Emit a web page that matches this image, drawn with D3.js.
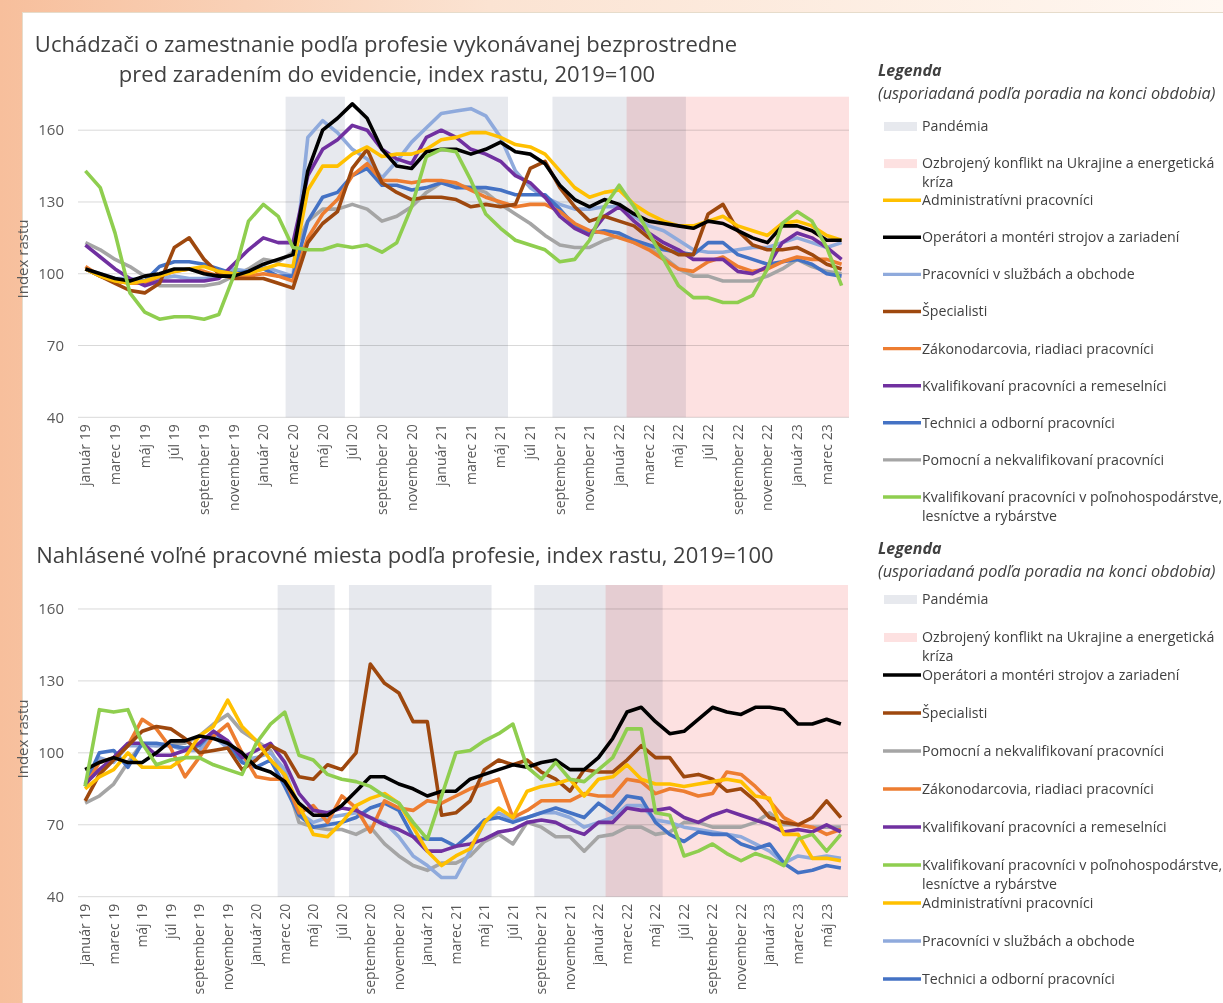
<!DOCTYPE html>
<html lang="sk">
<head>
<meta charset="utf-8">
<script src="https://cdn.jsdelivr.net/npm/d3@7.9.0/dist/d3.min.js"></script>
<style>
  html, body { margin: 0; padding: 0; }
  body { width: 1223px; height: 1003px; overflow: hidden; background: #fff; font-family: 'Open Sans', sans-serif; }
  svg { display: block; }
</style>
</head>
<body>
<svg id="chart" width="1223" height="1003"></svg>
<script>
// months jan 2019 .. jun 2023
const months = [
  'január 19','február 19','marec 19','apríl 19','máj 19','jún 19','júl 19','august 19','september 19','október 19','november 19','december 19',
  'január 20','február 20','marec 20','apríl 20','máj 20','jún 20','júl 20','august 20','september 20','október 20','november 20','december 20',
  'január 21','február 21','marec 21','apríl 21','máj 21','jún 21','júl 21','august 21','september 21','október 21','november 21','december 21',
  'január 22','február 22','marec 22','apríl 22','máj 22','jún 22','júl 22','august 22','september 22','október 22','november 22','december 22',
  'január 23','február 23','marec 23','apríl 23','máj 23','jún 23'
];
const topMonths = months.slice(0, 52);
const botMonths = months.slice(0, 54);

// shaded periods [first month, last month]
const pandemicTop = [['marec 20', 'jún 20'], ['august 20', 'máj 21'], ['september 21', 'máj 22']];
const warTop = [['február 22', 'apríl 23']];
const pandemicBot = [['marec 20', 'jún 20'], ['august 20', 'máj 21'], ['september 21', 'máj 22']];
const warBot = [['február 22', 'jún 23']];

// uchádzači o zamestnanie (top)
const topAdmin = [102,99,97,96,97,99,101,102,103,101,100,100,102,104,103,
  135,145,145,150,153,149,150,150,152,156,157,159,159,157,154,153,150,143,136,132,134,
  135,129,125,122,120,120,122,124,120,118,116,121,122,120,116,114];
const topOper = [102,100,98,97,99,100,102,102,100,99,99,101,104,106,108,
  143,160,165,171,165,152,145,144,151,152,152,150,152,155,151,150,146,137,131,128,131,
  129,125,122,121,120,119,122,121,118,115,113,120,120,118,114,114];
const topSluzby = [102,100,98,98,97,98,99,98,98,99,102,101,103,101,99,
  157,164,159,152,148,140,147,155,161,167,168,169,166,157,143,136,132,129,127,127,128,
  128,124,120,118,114,110,109,109,110,111,111,113,115,113,111,113];
const topSpec = [102,99,96,93,92,96,111,115,106,100,98,98,98,96,94,
  113,121,126,144,152,138,134,131,132,132,131,128,129,128,129,144,147,136,128,122,124,
  122,120,115,111,108,108,125,129,118,112,110,110,111,108,104,102];
const topZak = [103,99,97,96,96,99,101,102,101,99,99,99,100,99,97,
  115,125,131,141,146,139,139,138,139,139,138,135,132,130,128,129,129,126,121,118,117,
  115,113,110,106,102,101,105,107,103,101,102,105,107,106,106,104];
const topKval = [112,107,102,98,95,97,97,97,97,98,104,110,115,113,113,
  141,152,156,162,160,152,148,146,157,160,157,152,150,147,141,138,132,124,119,116,124,
  128,122,117,113,110,106,106,106,101,100,103,113,117,115,111,106];
const topTech = [102,99,97,97,97,103,105,105,104,102,100,101,102,99,99,
  122,132,134,141,144,137,137,135,136,138,136,136,136,135,133,133,133,127,120,117,118,
  117,114,112,110,109,108,113,113,108,106,104,105,106,104,100,99];
const topPom = [113,110,106,103,99,95,95,95,95,96,99,102,106,105,109,
  122,127,127,129,127,122,124,128,134,138,137,136,134,129,125,121,116,112,111,111,114,
  116,113,111,107,102,99,99,97,97,97,99,102,106,103,101,100];
const topPol = [143,136,117,92,84,81,82,82,81,83,99,122,129,124,111,
  110,110,112,111,112,109,113,128,149,152,151,139,125,119,114,112,110,105,106,114,128,
  137,128,117,106,95,90,90,88,88,91,102,121,126,122,111,95];

// nahlásené voľné pracovné miesta (bottom)
const botOper = [93,96,98,96,96,100,105,105,107,106,104,100,94,92,88,79,74,74,78,84,90,90,87,85,
  82,84,84,89,91,93,95,94,96,97,93,93,98,
  106,117,119,113,108,109,114,119,117,116,119,119,118,112,112,114,112];
const botSpec = [80,91,97,103,109,111,110,106,100,101,102,93,97,103,100,90,89,95,93,100,137,129,125,113,
  113,74,75,80,93,97,95,97,92,89,84,93,92,
  92,97,103,98,98,90,91,89,84,85,80,73,71,70,73,80,73];
const botPom = [79,82,87,96,104,103,104,104,107,112,116,109,105,101,90,71,69,68,68,66,69,62,57,53,
  51,54,54,57,63,66,62,71,69,65,65,59,65,
  66,69,69,66,67,71,71,69,69,69,71,75,70,70,69,69,69];
const botZak = [86,96,98,103,114,110,102,90,98,107,112,100,90,89,89,75,78,71,82,77,67,80,77,76,
  80,79,82,85,87,89,73,76,80,80,80,83,82,
  82,89,88,83,85,84,82,83,92,91,86,80,73,70,69,66,68];
const botKval = [87,93,98,104,104,99,99,101,104,109,105,98,101,104,96,83,76,75,77,76,73,70,68,65,
  59,59,61,62,64,67,68,71,72,71,68,66,71,
  71,77,76,76,77,73,71,74,76,74,72,70,67,68,67,70,67];
const botPol = [86,118,117,118,104,95,97,98,98,95,93,91,104,112,117,99,97,91,89,88,86,82,79,71,
  64,82,100,101,105,108,112,94,89,96,89,88,93,
  98,110,110,75,74,57,59,62,58,55,58,56,53,64,66,59,66];
const botAdmin = [85,90,93,100,94,94,94,98,107,111,122,111,105,97,91,78,66,65,71,78,81,83,79,69,
  59,53,57,60,71,77,73,84,86,87,89,82,89,
  90,95,89,87,87,86,87,88,89,88,82,81,66,66,56,56,55];
const botSluzby = [86,98,96,103,103,103,103,101,101,107,102,97,98,100,93,75,71,73,74,75,73,71,65,57,
  53,48,48,59,71,75,72,73,75,75,73,69,71,
  73,78,78,72,71,69,68,67,66,65,62,59,54,57,56,57,56];
const botTech = [87,100,101,94,104,104,103,102,103,109,104,96,94,97,86,74,69,70,71,73,77,79,76,65,
  64,64,61,66,72,73,71,73,75,77,75,73,79,
  75,82,81,71,66,63,67,66,66,62,60,62,54,50,51,53,52];

const yTicks = [40, 70, 100, 130, 160];

const names = {
  admin: 'Administratívni pracovníci',
  oper: 'Operátori a montéri strojov a zariadení',
  sluzby: 'Pracovníci v službách a obchode',
  spec: 'Špecialisti',
  zak: 'Zákonodarcovia, riadiaci pracovníci',
  kval: 'Kvalifikovaní pracovníci a remeselníci',
  tech: 'Technici a odborní pracovníci',
  pom: 'Pomocní a nekvalifikovaní pracovníci',
  pol: 'Kvalifikovaní pracovníci v poľnohospodárstve,|lesníctve a rybárstve'
};
const colors = {
  admin: '#ffc000', oper: '#000000', sluzby: '#8faadc', spec: '#9e480e', zak: '#ed7d31',
  kval: '#7030a0', tech: '#4472c4', pom: '#a5a5a5', pol: '#8fce4f'
};

const topSeries = { admin: topAdmin, oper: topOper, sluzby: topSluzby, spec: topSpec, zak: topZak, kval: topKval, tech: topTech, pom: topPom, pol: topPol };
const botSeries = { admin: botAdmin, oper: botOper, sluzby: botSluzby, spec: botSpec, zak: botZak, kval: botKval, tech: botTech, pom: botPom, pol: botPol };

const topLegendOrder = ['admin', 'oper', 'sluzby', 'spec', 'zak', 'kval', 'tech', 'pom', 'pol'];
const botLegendOrder = ['oper', 'spec', 'pom', 'zak', 'kval', 'pol', 'admin', 'sluzby', 'tech'];
const drawOrder = ['pom', 'sluzby', 'tech', 'zak', 'kval', 'spec', 'admin', 'oper', 'pol'];

const svg = d3.select('#chart');
const textColor = '#404040';
const tickColor = '#595959';

// page background and card
const defs = svg.append('defs');
const grad = defs.append('linearGradient').attr('id', 'bg').attr('x1', 0).attr('x2', 1).attr('y1', 0).attr('y2', 0);
grad.append('stop').attr('offset', '0%').attr('stop-color', '#f7bf9c');
grad.append('stop').attr('offset', '40%').attr('stop-color', '#fbe3d2');
grad.append('stop').attr('offset', '100%').attr('stop-color', '#fff8f2');
svg.append('rect').attr('width', 1223).attr('height', 1003).attr('fill', 'url(#bg)');
svg.append('rect').attr('x', 22.5).attr('y', 12.5).attr('width', 1210).attr('height', 1000)
  .attr('fill', '#fff').attr('stroke', '#e6dccb');

function drawPanel(cfg) {
  const x = d3.scaleBand().domain(cfg.months).range([cfg.x0, cfg.x1]).padding(0);
  const y = d3.scaleLinear().domain([40, cfg.ymax]).range([cfg.y1, cfg.y0]);
  const g = svg.append('g');
  const bw = x.bandwidth();

  // shading
  g.selectAll('rect.pand').data(cfg.pandemic).join('rect')
    .attr('x', d => x(d[0])).attr('width', d => x(d[1]) + bw - x(d[0]))
    .attr('y', cfg.y0).attr('height', cfg.y1 - cfg.y0).attr('fill', '#e7e9ee');
  g.selectAll('rect.war').data(cfg.war).join('rect')
    .attr('x', d => x(d[0])).attr('width', d => x(d[1]) + bw - x(d[0]))
    .attr('y', cfg.y0).attr('height', cfg.y1 - cfg.y0).attr('fill', '#fde1e1')
    .style('mix-blend-mode', 'multiply');

  // grid
  g.selectAll('line.grid').data(yTicks).join('line')
    .attr('x1', cfg.x0).attr('x2', cfg.x1).attr('y1', d => y(d)).attr('y2', d => y(d))
    .attr('stroke', '#d9d9d9').attr('stroke-width', 1)
    .style('mix-blend-mode', 'multiply');

  // y axis labels
  g.selectAll('text.yt').data(yTicks).join('text')
    .attr('x', cfg.x0 - 14).attr('y', d => y(d)).attr('dy', '0.35em')
    .attr('text-anchor', 'end').attr('fill', tickColor).attr('font-size', 15).text(d => d);

  g.append('text')
    .attr('transform', `translate(28,${cfg.axisTitleY}) rotate(-90)`)
    .attr('text-anchor', 'middle').attr('fill', tickColor).attr('font-size', 15).text('Index rastu');

  // x labels
  const ticks = cfg.months.filter((d, i) => i % 2 === 0);
  g.selectAll('text.xt').data(ticks).join('text')
    .attr('transform', d => `translate(${x(d) + bw / 2},${cfg.y1 + 7}) rotate(-90)`)
    .attr('text-anchor', 'end').attr('dy', '0.35em')
    .attr('fill', tickColor).attr('font-size', 14).text(d => d);

  // lines
  const line = d3.line().x((d, i) => x(cfg.months[i]) + bw / 2).y(d => y(d));
  drawOrder.forEach(k => {
    g.append('path').datum(cfg.series[k])
      .attr('d', line).attr('fill', 'none').attr('stroke', colors[k])
      .attr('stroke-width', 3.6).attr('stroke-linejoin', 'round');
  });

  // title
  cfg.title.forEach(t => {
    g.append('text').attr('x', t.x).attr('y', t.y).attr('text-anchor', 'middle')
      .attr('fill', textColor).attr('font-size', 22).text(t.text);
  });

  // legend
  const lg = svg.append('g');
  lg.append('text').attr('x', 878).attr('y', cfg.legY).attr('dy', '0.35em')
    .attr('font-weight', 'bold').attr('font-style', 'italic').attr('font-size', 16)
    .attr('fill', textColor).text('Legenda');
  lg.append('text').attr('x', 878).attr('y', cfg.legY + 23).attr('dy', '0.35em')
    .attr('font-style', 'italic').attr('font-size', 16.3)
    .attr('fill', textColor).text('(usporiadaná podľa poradia na konci obdobia)');

  const items = [
    { type: 'rect', color: '#e7e9ee', label: 'Pandémia' },
    { type: 'rect', color: '#fde1e1', label: 'Ozbrojený konflikt na Ukrajine a energetická|kríza' }
  ].concat(cfg.legendOrder.map(k => ({ type: 'line', color: colors[k], label: names[k] })));

  items.forEach((it, i) => {
    const cy = cfg.legItemY + i * cfg.legStep;
    if (it.type === 'rect') {
      lg.append('rect').attr('x', 884).attr('y', cy - 4).attr('width', 33).attr('height', 9).attr('fill', it.color);
    } else {
      lg.append('line').attr('x1', 883).attr('x2', 921).attr('y1', cy).attr('y2', cy)
        .attr('stroke', it.color).attr('stroke-width', 3.4);
    }
    it.label.split('|').forEach((s, j) => {
      lg.append('text').attr('x', 922).attr('y', cy + j * 19).attr('dy', '0.35em')
        .attr('font-size', 14.2).attr('fill', textColor).text(s);
    });
  });
}

drawPanel({
  months: topMonths, series: topSeries, pandemic: pandemicTop, war: warTop,
  x0: 78, x1: 849, y0: 96.7, y1: 417.3, ymax: 174, axisTitleY: 259,
  title: [
    { text: 'Uchádzači o zamestnanie podľa profesie vykonávanej bezprostredne', x: 386, y: 52 },
    { text: 'pred zaradením do evidencie, index rastu, 2019=100', x: 387, y: 82 }
  ],
  legendOrder: topLegendOrder, legY: 70, legItemY: 126, legStep: 37.1
});

drawPanel({
  months: botMonths, series: botSeries, pandemic: pandemicBot, war: warBot,
  x0: 78, x1: 848, y0: 585, y1: 896.7, ymax: 170, axisTitleY: 739,
  title: [
    { text: 'Nahlásené voľné pracovné miesta podľa profesie, index rastu, 2019=100', x: 405, y: 563 }
  ],
  legendOrder: botLegendOrder, legY: 548, legItemY: 599, legStep: 38
});
</script>
</body>
</html>
